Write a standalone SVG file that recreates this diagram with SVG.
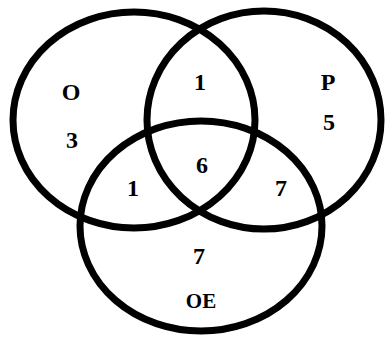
<svg xmlns="http://www.w3.org/2000/svg" width="386" height="337" viewBox="0 0 386 337">
<style>
.set{fill:none;stroke:#000;stroke-width:7}
.lbl{font-family:"Liberation Serif","Times New Roman",serif;font-weight:bold;font-size:24px;fill:#000;text-anchor:middle}
.sm{font-size:21px}
</style>
<rect width="386" height="337" fill="#fff"/>
<g id="set-O">
<ellipse class="set" cx="134" cy="120" rx="121" ry="108"/>
<text class="lbl" x="71" y="100">O</text>
<text class="lbl" x="72" y="148">3</text>
</g>
<g id="set-P">
<ellipse class="set" cx="264" cy="120" rx="117" ry="109"/>
<text class="lbl" x="328" y="90">P</text>
<text class="lbl" x="329" y="130">5</text>
</g>
<g id="set-OE">
<ellipse class="set" cx="201" cy="226" rx="121" ry="105"/>
<text class="lbl" x="199" y="264">7</text>
<text class="lbl sm" x="201" y="308">OE</text>
</g>
<g id="overlaps">
<text class="lbl" x="200" y="90">1</text>
<text class="lbl" x="202" y="173">6</text>
<text class="lbl" x="133" y="196">1</text>
<text class="lbl" x="281" y="196">7</text>
</g>
</svg>
